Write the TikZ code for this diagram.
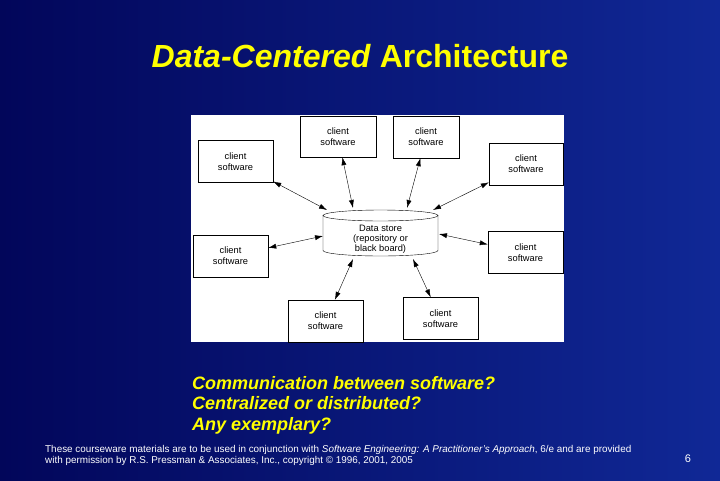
\documentclass[tikz,border=0pt]{standalone}
\usepackage{fontspec}
\setmainfont{Liberation Sans}
\usetikzlibrary{shapes,arrows,arrows.meta,positioning,calc}
\definecolor{slideblue}{RGB}{16,40,150}
\definecolor{slidedark}{RGB}{2,6,90}
\definecolor{titleyellow}{RGB}{255,255,0}
\tikzset{
    client/.style={rectangle, draw, fill=white, minimum width=75pt, minimum height=42pt, align=center, font=\fontsize{9.3}{11}\selectfont, inner sep=1pt},
    link/.style={draw, thin, {Latex[length=8pt,width=5pt]}-{Latex[length=8pt,width=5pt]}}
}
\begin{document}
\begin{tikzpicture}[x=1pt, y=-1pt]
    % Background
    \shade[left color=slidedark, right color=slideblue] (0,0) rectangle (720,480);
    \useasboundingbox (0,0) rectangle (720,480);
    \node [font=\fontsize{32}{36}\selectfont\bfseries, text=titleyellow] (title) at (360,56) {\textit{Data-Centered} Architecture};

    % Panel
    \fill [white] (191,115) rectangle (564,342);

    % Data store
    \filldraw [fill=white] (323,215.5) -- (323,250.5) arc [start angle=180, end angle=360, x radius=57.5pt, y radius=5.5pt] -- (438,215.5);
    \draw (380.5,215.5) ellipse [x radius=57.5pt, y radius=5.5pt];
    \node [align=center, font=\fontsize{9.3}{10}\selectfont] (ds) at (380.5,239) {Data store\\(repository or\\black board)};
    \coordinate (p3) at (327,210);
    \coordinate (p1) at (353,208);
    \coordinate (p2) at (407,208);
    \coordinate (p4) at (433,210);
    \coordinate (p5) at (323,236);
    \coordinate (p6) at (439,234);
    \coordinate (p7) at (353,259);
    \coordinate (p8) at (413,259);

    % Clients
    \node [client, minimum width=76pt, minimum height=41pt] (c1) at (338,136.5) {client\\software};
    \node [client, minimum width=66pt] (c2) at (426,137) {client\\software};
    \node [client] (c3) at (235.5,161.5) {client\\software};
    \node [client, minimum width=74pt] (c4) at (526,164) {client\\software};
    \node [client] (c5) at (230.5,256) {client\\software};
    \node [client] (c6) at (525.5,252.5) {client\\software};
    \node [client] (c7) at (325.5,321) {client\\software};
    \node [client] (c8) at (440.5,318.5) {client\\software};

    % Links
    \draw [link] (c3) -- (p3);
    \draw [link] (c1) -- (p1);
    \draw [link] (c2) -- (p2);
    \draw [link] (c4) -- (p4);
    \draw [link] (c5) -- (p5);
    \draw [link] (c6) -- (p6);
    \draw [link] (c7) -- (p7);
    \draw [link] (c8) -- (p8);

    % Questions
    \node [anchor=north west, align=left, text=titleyellow, font=\fontsize{18}{20.5}\selectfont\bfseries\itshape, inner sep=1pt] (qs) at (191,375) {Communication between software?\\Centralized or distributed?\\Any exemplary?};

    % Footer
    \node [anchor=north west, align=left, text=white, font=\fontsize{9.9}{11.5}\selectfont, inner sep=0pt] (foot) at (45,445) {These courseware materials are to be used in conjunction with \textit{Software Engineering: A Practitioner's Approach}, 6/e and are provided\\with permission by R.S. Pressman \& Associates, Inc., copyright \textcopyright{} 1996, 2001, 2005};
    \node [text=white, font=\fontsize{11}{12}\selectfont] (page) at (688,459) {6};
\end{tikzpicture}
\end{document}
